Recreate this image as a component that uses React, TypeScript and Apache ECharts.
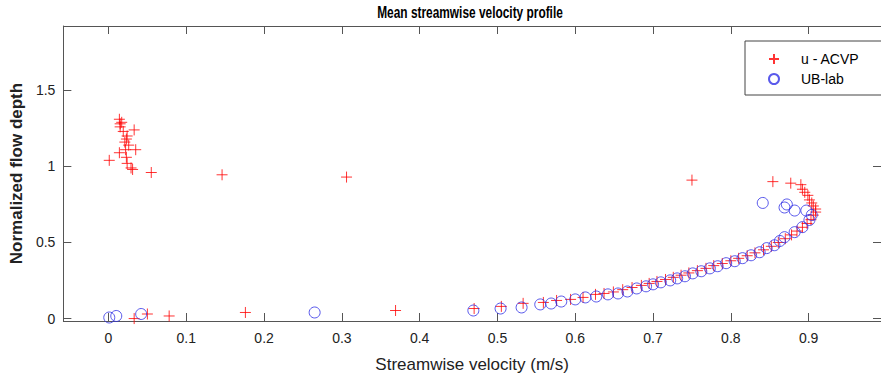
import React, { useEffect, useRef } from "react";
import * as echarts from "echarts";

const chartTitle = "Mean streamwise velocity profile";
const xName = "Streamwise velocity (m/s)";
const yName = "Normalized flow depth";
const seriesNames = ["u - ACVP", "UB-lab"];
const xTicks = [0, 0.1, 0.2, 0.3, 0.4, 0.5, 0.6, 0.7, 0.8, 0.9];
const yTicks = [0, 0.5, 1, 1.5];

// u - ACVP (red crosses): [velocity, normalized depth]
const acvp: number[][] = [
  [0.014, 1.31], [0.017, 1.29], [0.015, 1.28], [0.015, 1.26], [0.033, 1.24],
  [0.019, 1.23], [0.024, 1.2], [0.023, 1.18], [0.021, 1.16], [0.026, 1.14],
  [0.035, 1.11], [0.022, 1.11], [0.014, 1.09], [0.023, 1.06], [0.001, 1.04],
  [0.024, 1.02], [0.029, 0.99], [0.031, 0.98], [0.055, 0.96], [0.146, 0.945],
  [0.306, 0.93], [0.75, 0.91], [0.854, 0.9], [0.877, 0.89], [0.89, 0.88],
  [0.892, 0.85], [0.895, 0.83], [0.899, 0.81], [0.901, 0.78], [0.904, 0.76],
  [0.906, 0.74], [0.909, 0.72], [0.909, 0.7], [0.906, 0.68], [0.903, 0.65],
  [0.898, 0.625], [0.892, 0.6], [0.885, 0.575], [0.878, 0.55], [0.87, 0.525],
  [0.861, 0.5], [0.852, 0.475], [0.842, 0.452], [0.831, 0.432], [0.821, 0.413],
  [0.81, 0.396], [0.8, 0.38], [0.789, 0.362], [0.778, 0.348], [0.768, 0.33],
  [0.757, 0.315], [0.746, 0.3], [0.736, 0.285], [0.726, 0.271], [0.716, 0.257],
  [0.705, 0.244], [0.695, 0.231], [0.685, 0.218], [0.673, 0.204], [0.661, 0.19],
  [0.649, 0.175], [0.637, 0.165], [0.626, 0.159], [0.61, 0.139], [0.594, 0.126],
  [0.576, 0.119], [0.559, 0.106], [0.533, 0.1], [0.505, 0.08], [0.47, 0.066],
  [0.369, 0.053], [0.176, 0.04], [0.078, 0.017], [0.05, 0.03], [0.033, 0.0],
];

// UB-lab (blue circles): [velocity, normalized depth]
const ublab: number[][] = [
  [0.001, 0.007], [0.01, 0.017], [0.042, 0.03], [0.265, 0.04],
  [0.469, 0.053], [0.504, 0.066], [0.531, 0.073], [0.555, 0.093], [0.569, 0.099],
  [0.582, 0.112], [0.6, 0.126], [0.613, 0.139], [0.627, 0.145], [0.642, 0.159],
  [0.655, 0.165], [0.667, 0.178], [0.679, 0.198], [0.691, 0.212], [0.7, 0.225],
  [0.71, 0.238], [0.722, 0.251], [0.731, 0.264], [0.741, 0.278], [0.751, 0.297],
  [0.762, 0.311], [0.773, 0.33], [0.783, 0.344], [0.794, 0.364], [0.805, 0.377],
  [0.815, 0.397], [0.826, 0.416], [0.837, 0.436], [0.846, 0.463], [0.856, 0.482],
  [0.863, 0.51], [0.869, 0.535], [0.882, 0.568], [0.892, 0.601], [0.901, 0.648],
  [0.904, 0.681], [0.897, 0.71], [0.882, 0.71], [0.872, 0.75], [0.869, 0.73],
  [0.841, 0.76],
];

const FONT = '"Liberation Sans", Arial, sans-serif';
const CROSS = "path://M5,0 L5,10 M0,5 L10,5";

export default function App() {
  const ref = useRef<HTMLDivElement>(null);
  useEffect(() => {
    if (!ref.current) return;
    const chart = echarts.init(ref.current, null, { renderer: "svg" });
    const axisLine = { show: true, onZero: false, lineStyle: { color: "#555", width: 1 } };
    const tick = (vals: number[]) => ({
      show: true,
      inside: true,
      length: 8,
      lineStyle: { color: "#555" },
      customValues: vals,
    });
    const xBase = { type: "value", min: -0.058, max: 0.993, splitLine: { show: false } };
    const yBase = { type: "value", min: -0.016, max: 1.923, splitLine: { show: false } };
    chart.setOption({
      animation: false,
      backgroundColor: "#fff",
      grid: { left: 63, top: 26, width: 823, height: 295 },
      graphic: [
        {
          type: "text",
          x: 470,
          y: 12,
          scaleX: 0.7,
          style: {
            text: chartTitle,
            textAlign: "center",
            textVerticalAlign: "middle",
            font: `bold 17px ${FONT}`,
            fill: "#000",
          },
        },
      ],
      legend: {
        left: 745,
        top: 41,
        orient: "vertical",
        backgroundColor: "#fff",
        borderColor: "#444",
        borderWidth: 1,
        padding: [11, 23, 9, 23],
        itemGap: 6,
        itemWidth: 10,
        itemHeight: 10,
        textStyle: { fontFamily: FONT, fontSize: 14, color: "#000", padding: [0, 0, 0, 17] },
        data: seriesNames,
      },
      xAxis: [
        {
          ...xBase,
          position: "bottom",
          name: xName,
          nameLocation: "middle",
          nameGap: 35,
          nameTextStyle: { fontFamily: FONT, fontSize: 17, color: "#222" },
          axisLine,
          axisTick: tick(xTicks),
          axisLabel: {
            show: true,
            margin: 10,
            fontFamily: FONT,
            fontSize: 14,
            color: "#222",
            customValues: xTicks,
          },
        },
        {
          ...xBase,
          position: "top",
          axisLine,
          axisTick: tick(xTicks),
          axisLabel: { show: false },
        },
      ],
      yAxis: [
        {
          ...yBase,
          position: "left",
          name: yName,
          nameLocation: "middle",
          nameGap: 36,
          nameTextStyle: { fontFamily: FONT, fontSize: 17, fontWeight: "bold", color: "#222" },
          axisLine,
          axisTick: tick(yTicks),
          axisLabel: {
            show: true,
            margin: 8,
            fontFamily: FONT,
            fontSize: 14,
            color: "#222",
            customValues: yTicks,
          },
        },
        {
          ...yBase,
          position: "right",
          axisLine,
          axisTick: tick(yTicks),
          axisLabel: { show: false },
        },
      ],
      series: [
        {
          name: seriesNames[0],
          type: "scatter",
          xAxisIndex: 0,
          yAxisIndex: 0,
          data: acvp,
          symbol: CROSS,
          symbolSize: 11,
          itemStyle: { color: "transparent", borderColor: "#ff0000", borderWidth: 1 },
        },
        {
          name: seriesNames[1],
          type: "scatter",
          xAxisIndex: 0,
          yAxisIndex: 0,
          data: ublab,
          symbol: "circle",
          symbolSize: 11,
          itemStyle: { color: "transparent", borderColor: "#2f2fe6", borderWidth: 1 },
        },
      ],
    });
    return () => chart.dispose();
  }, []);
  return <div ref={ref} style={{ position: "fixed", left: 0, top: 0, width: 881, height: 379 }} />;
}
